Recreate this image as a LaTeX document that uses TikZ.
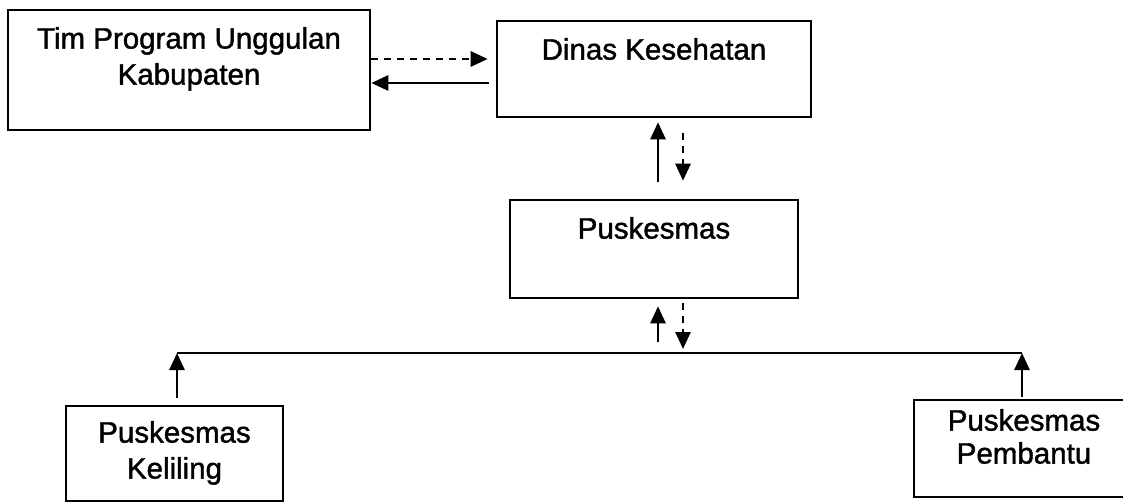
\documentclass[tikz,border=0pt]{standalone}
\usepackage{fontspec}
\setmainfont{Liberation Sans}[FakeBold=1.4]
\usetikzlibrary{arrows.meta,calc}
\tikzset{
  box/.style={draw, line width=2.6pt, rectangle, inner sep=0pt},
  lbl/.style={anchor=north, inner sep=0pt, align=center, font=\fontsize{29.5}{36}\selectfont},
  link/.style={line width=2.7pt, -{Triangle[length=17pt,width=15pt]}},
  linkdash/.style={link, dash pattern=on 7pt off 6pt},
}
\begin{document}
\begin{tikzpicture}[x=1pt,y=-1pt]
  \useasboundingbox (0,0) rectangle (1123,502);
  \clip (0,0) rectangle (1123,502);

  % boxes
  \node[box, minimum width=362pt, minimum height=120pt] (tim) at (189,70) {};
  \node[box, minimum width=314pt, minimum height=96pt]  (dinas) at (654,69) {};
  \node[box, minimum width=288pt, minimum height=98pt]  (pusk) at (654,249) {};
  \node[box, minimum width=217pt, minimum height=95pt]  (kel) at (174.5,453.5) {};
  \node[box, minimum width=220pt, minimum height=97pt]  (pemb) at (1024,448.5) {};

  % box titles, placed near the top edge
  \node[lbl] (timtxt) at (189,27) {Tim Program Unggulan\\Kabupaten};
  \node[lbl] (dinastxt) at (654,38) {Dinas Kesehatan};
  \node[lbl] (pusktxt) at (654,217) {Puskesmas};
  \node[lbl] (keltxt) at (174.5,421) {Puskesmas\\Keliling};
  \node[lbl, font=\fontsize{29.5}{33}\selectfont] (pembtxt) at (1024,409) {Puskesmas\\Pembantu};

  % levels for the connectors
  \coordinate (ya) at (0,59);
  \coordinate (yb) at (0,83);
  \coordinate (xu) at (658,0);
  \coordinate (xd) at (683,0);
  \coordinate (busL) at (177,353);
  \coordinate (busR) at (1022,353);

  % Tim <-> Dinas
  \draw[linkdash] (tim.east |- ya) -- ([xshift=-8pt]dinas.west |- ya);
  \draw[link] ([xshift=-7pt]dinas.west |- yb) -- (tim.east |- yb);

  % Dinas <-> Puskesmas
  \draw[link] ([yshift=17pt]pusk.north -| xu) -- ([yshift=-4pt]dinas.south -| xu);
  \draw[linkdash] ([yshift=-15pt]dinas.south -| xd) -- ([yshift=18pt]pusk.north -| xd);

  % Puskesmas <-> distribution line
  \draw[link] ([yshift=11pt]busL -| xu) -- ([yshift=-7pt]pusk.south -| xu);
  \draw[linkdash] ([yshift=-4pt]pusk.south -| xd) -- ([yshift=4pt]busL -| xd);

  % distribution line and the two branches
  \draw[line width=2.6pt] (busL) -- (busR);
  \draw[link] ([yshift=7pt]kel.north -| busL) -- (busL);
  \draw[link] ([yshift=2pt]pemb.north -| busR) -- (busR);
\end{tikzpicture}
\end{document}
